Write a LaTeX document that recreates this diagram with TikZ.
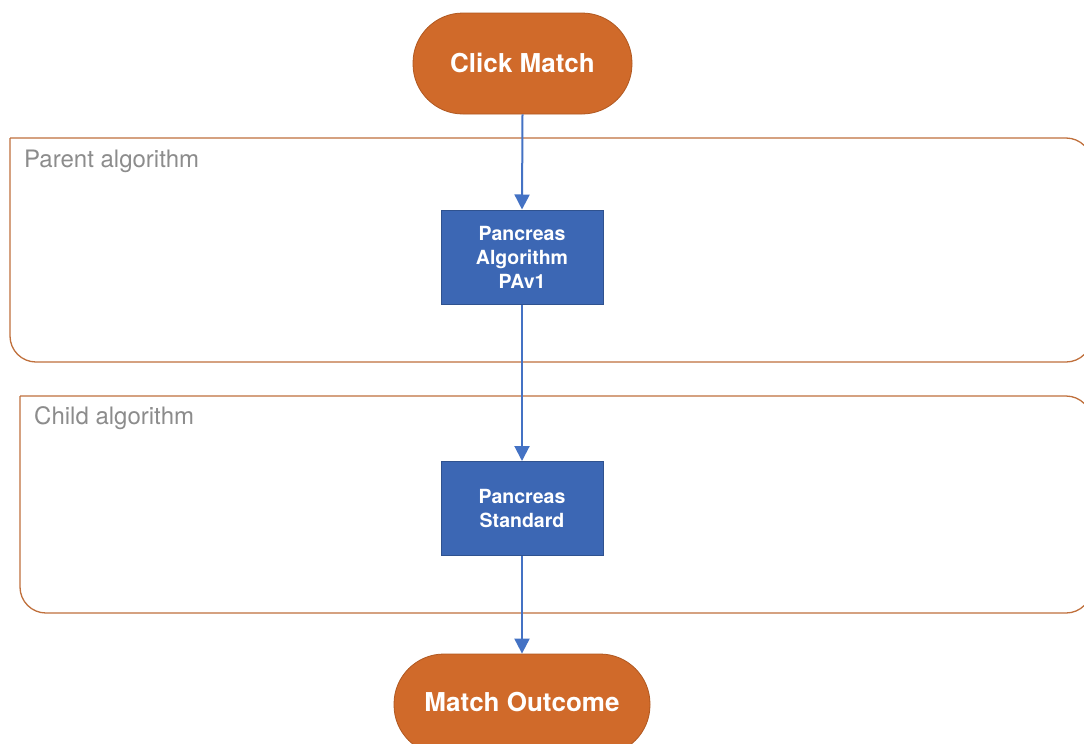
\documentclass[tikz,border=0pt]{standalone}
\usepackage{fontspec}
\setmainfont{TeX Gyre Heros}
\usetikzlibrary{arrows.meta}
\definecolor{termfill}{RGB}{208,106,42}
\definecolor{termline}{RGB}{176,88,32}
\definecolor{boxfill}{RGB}{60,103,180}
\definecolor{boxline}{RGB}{47,82,143}
\definecolor{arrowblue}{RGB}{68,114,196}
\definecolor{laneline}{RGB}{192,112,60}
\definecolor{lanetext}{RGB}{140,140,140}
\tikzset{
  terminal/.style={draw=termline, line width=0.8pt, fill=termfill, rounded corners=50pt,
    minimum height=101pt, inner sep=0pt, text=white,
    font=\fontsize{26}{30}\selectfont\bfseries},
  procbox/.style={draw=boxline, line width=1pt, fill=boxfill, minimum width=162pt,
    minimum height=94pt, inner sep=0pt, text=white, align=center,
    font=\fontsize{19.5}{24}\selectfont\bfseries},
  lane/.style={draw=laneline, line width=1.3pt},
  lanelabel/.style={text=lanetext, anchor=west, inner sep=0pt,
    font=\fontsize{24}{28}\selectfont},
  flow/.style={draw=arrowblue, line width=2pt, -{Triangle[length=15pt,width=15pt]}}
}
\begin{document}
\begin{tikzpicture}[x=1pt,y=-1pt]
\clip (0,0) rectangle (1084,744);
\fill[white] (0,0) rectangle (1084,744);
% lanes
\draw[lane] (10,138) [rounded corners=26pt] -- (1092,138) -- (1092,362) -- (10,362) -- (10,138);
\draw[lane] (20,396) [rounded corners=26pt] -- (1092,396) -- (1092,613) -- (20,613) -- (20,396);
\node[lanelabel] (lp) at (24,161) {Parent algorithm};
\node[lanelabel] (lc) at (34,418) {Child algorithm};
% nodes
\node[terminal, minimum width=219pt] (cm) at (522.5,63.5) {\raisebox{2pt}{Click Match}};
\node[procbox] (pa) at (522,257) {Pancreas\\Algorithm\\PAv1};
\node[procbox] (ps) at (522,508.5) {Pancreas\\Standard};
\node[terminal, minimum width=256pt] (mo) at (522,704.5) {\raisebox{6pt}{Match Outcome}};
% connectors
\draw[flow] (cm.south) -- (pa.north);
\draw[flow] (pa.south) -- (ps.north);
\draw[flow] (ps.south) -- (mo.north);
\end{tikzpicture}
\end{document}
